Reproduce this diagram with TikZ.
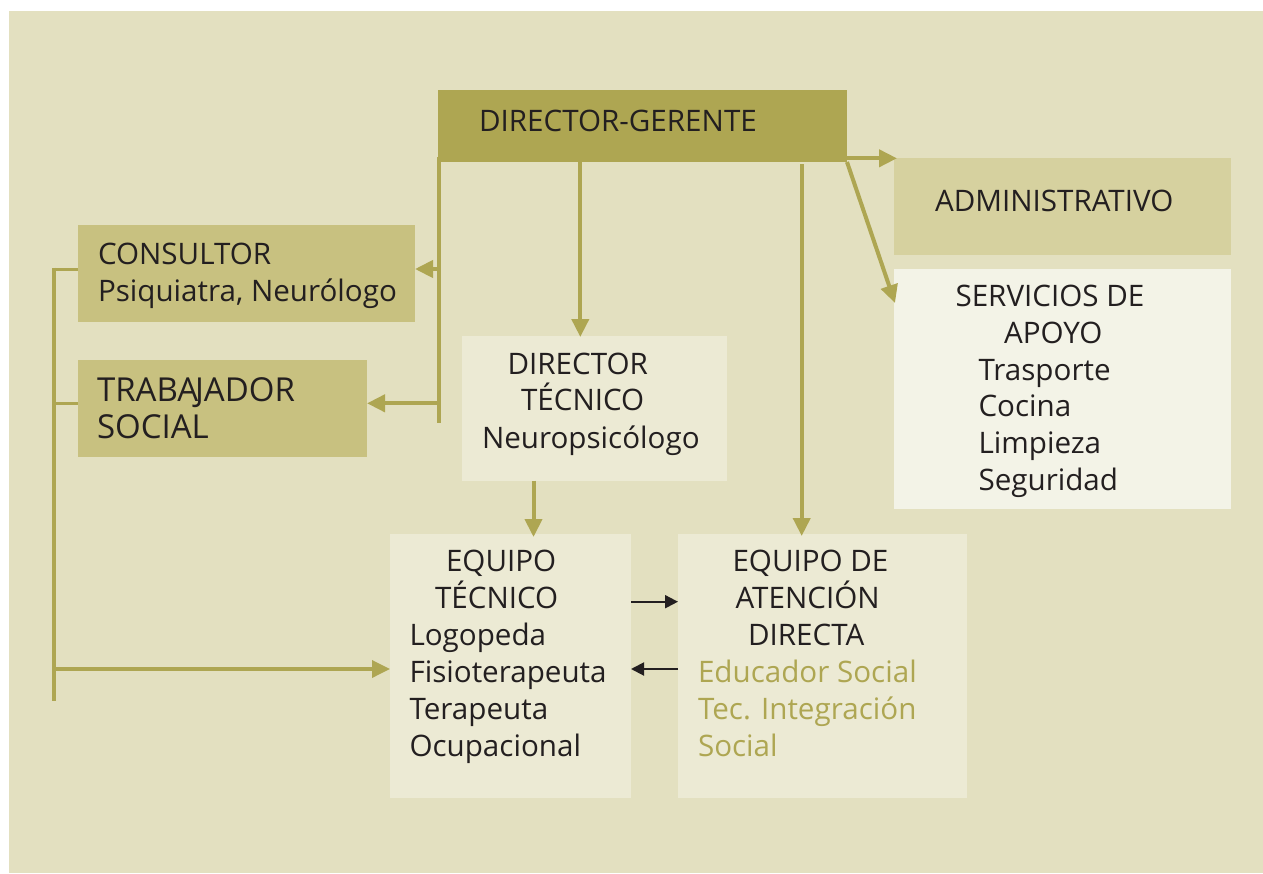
\documentclass[tikz,border=0pt]{standalone}
\usepackage{fontspec}
\setmainfont{Open Sans}
\usetikzlibrary{arrows.meta}
\definecolor{bgc}{HTML}{E3E0C0}
\definecolor{oliv}{HTML}{AEA652}
\definecolor{midol}{HTML}{C8C180}
\definecolor{admc}{HTML}{D6D19F}
\definecolor{lightc}{HTML}{ECEAD4}
\definecolor{servc}{HTML}{F3F3E7}
\definecolor{ink}{HTML}{231F20}
\tikzset{
  box/.style={draw=none, inner sep=0pt, outer sep=0pt},
  lbl/.style={anchor=base west, inner sep=0pt, outer sep=0pt, text=ink, font=\fontsize{29.6}{35}\selectfont},
  biglbl/.style={lbl, font=\fontsize{33}{39}\selectfont},
  olbl/.style={lbl, text=oliv},
  arr/.style={draw=oliv, line width=4pt, -{Triangle[length=18pt,width=17pt]}},
  trunk/.style={draw=oliv, line width=4pt},
  bus/.style={draw=oliv, line width=3.5pt},
  busarr/.style={draw=oliv, line width=3.5pt, -{Triangle[length=18pt,width=17pt]}},
  blk/.style={draw=ink, line width=2pt, -{Triangle[length=13pt,width=13pt]}}
}
\newcommand{\tx}[5][lbl]{\node[#1] (#2) at (#3) {#4#5};}
\begin{document}
\begin{tikzpicture}[x=1pt,y=-1pt]
\useasboundingbox (0,0) rectangle (1263,873);
\fill[white] (0,0) rectangle (1263,873);
\fill[bgc] (9,11) rectangle (1263,873);

% boxes
\node[box, fill=oliv,  minimum width=409pt, minimum height=72pt]    (dg)   at (642.5,126) {};
\node[box, fill=admc,  minimum width=337pt, minimum height=97pt]    (adm)  at (1062.5,206.5) {};
\node[box, fill=servc, minimum width=337pt, minimum height=240pt]   (serv) at (1062.5,389) {};
\node[box, fill=midol, minimum width=337pt, minimum height=96.7pt]  (cons) at (246.5,273.3) {};
\node[box, fill=midol, minimum width=289pt, minimum height=96.7pt]  (trab) at (222.5,408.3) {};
\node[box, fill=lightc, minimum width=264.7pt, minimum height=144.7pt] (dt) at (594.3,408.3) {};
\node[box, fill=lightc, minimum width=241pt, minimum height=264.5pt] (et)  at (510.5,666.2) {};
\node[box, fill=lightc, minimum width=289pt, minimum height=264.5pt] (ead) at (822.5,666.2) {};

% texts
\tx{tdg}{479,131.7}{}{DIRECTOR-GERENTE}
\tx{tadm}{935,211.7}{}{ADMINISTRATIVO}
\tx{ts1}{955.5,306.7}{}{SERVICIOS DE}
\tx{ts2}{1004,343.3}{}{APOYO}
\tx{ts3}{978.5,380}{}{Trasporte}
\tx{ts4}{978.5,416.7}{}{Cocina}
\tx{ts5}{978.5,453.3}{}{Limpieza}
\tx{ts6}{978.5,490}{}{Seguridad}
\tx{tc1}{98,264}{}{CONSULTOR}
\tx{tc2}{98,301}{}{Psiquiatra, Neurólogo}
\tx[biglbl]{tt1}{97,401.7}{}{TRABA\kern-3pt JADOR}
\tx[biglbl]{tt2}{97,438.3}{}{SOCIAL}
\tx{td1}{507.5,374}{}{DIRECTOR}
\tx{td2}{521,410.7}{}{TÉCNICO}
\tx{td3}{482,448.3}{}{Neuropsicólogo}
\tx{te1}{446,571.7}{}{EQUIPO}
\tx{te2}{435,608.3}{}{TÉCNICO}
\tx{te3}{409.5,645.7}{}{Logopeda}
\tx{te4}{409.5,682.3}{}{Fisioterapeuta}
\tx{te5}{409.5,719.5}{}{Terapeuta}
\tx{te6}{409.5,756}{}{Ocupacional}
\tx{ta1}{732.5,571.7}{}{EQUIPO DE}
\tx{ta2}{735.5,608.3}{}{ATENCIÓN}
\tx{ta3}{748,645.7}{}{DIRECTA}
\tx[olbl]{ta4}{698,682.3}{}{Educador Social}
\tx[olbl]{ta5}{698,719.5}{}{Tec. Integración}
\tx[olbl]{ta6}{698,756}{}{Social}

% named coordinates
\coordinate (trunkTop) at (438.6,157);
\coordinate (trunkEnd) at (438.6,423);
\coordinate (tCons) at (438.6,269);
\coordinate (tTrab) at (438.6,403.3);
\coordinate (dtIn) at (580.3,337);
\coordinate (eadIn) at (801.7,536);
\coordinate (admIn) at (897,158.3);
\coordinate (servIn) at (895,303);
\coordinate (etIn) at (533.5,537);
\coordinate (busTop) at (54,267.6);
\coordinate (busBot) at (54,701);
\coordinate (bCons) at (54,269.3);
\coordinate (bTrab) at (54,403.3);
\coordinate (bEt) at (54,669);
\coordinate (kRight) at (631,601.7);
\coordinate (kLeft) at (631,669);

% connectors
\draw[trunk] (trunkTop) -- (trunkEnd);
\draw[arr] (tCons) -- (tCons -| cons.east);
\draw[arr] (tTrab) -- (tTrab -| trab.east);
\draw[arr] (dg.south -| dtIn) -- (dtIn);
\draw[arr] ([yshift=-2pt]dg.south -| eadIn) -- (eadIn);
\draw[arr] (dg.east |- admIn) -- (admIn);
\draw[arr] (dg.south east) -- (servIn);
\draw[arr] (dt.south -| etIn) -- (etIn);
\draw[bus] (busTop) -- (busBot);
\draw[bus] (bCons) -- (bCons -| cons.west);
\draw[bus] (bTrab) -- (bTrab -| trab.west);
\draw[busarr] (bEt) -- (bEt -| et.west);
\draw[blk] (kRight -| et.east) -- (kRight -| ead.west);
\draw[blk] (kLeft -| ead.west) -- (kLeft -| et.east);
\end{tikzpicture}
\end{document}
